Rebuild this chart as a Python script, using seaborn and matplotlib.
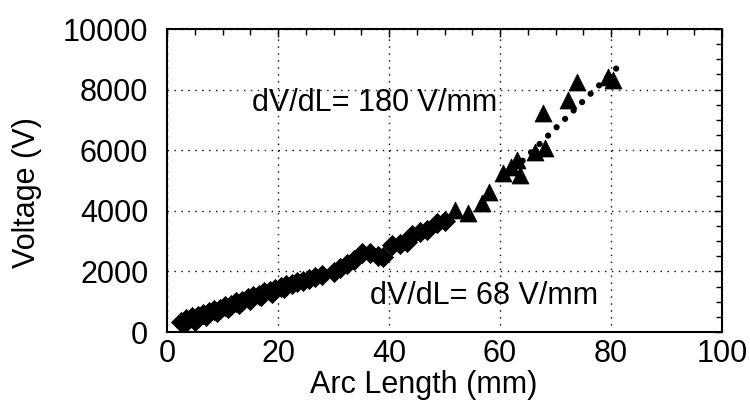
import matplotlib
matplotlib.use("Agg")
import matplotlib.pyplot as plt
import seaborn as sns
import pandas as pd
from matplotlib.ticker import MultipleLocator

# ---- data ----
diamond_x = [2.5, 3.0, 3.5, 4.5, 5.0, 5.5, 6.5, 7.0, 7.5, 8.5, 9.0, 9.5, 10.5, 11.0, 11.5,
             12.5, 13.0, 13.5, 14.5, 15.0, 15.5, 16.5, 17.0, 17.5, 18.5, 19.0, 19.5, 20.5,
             21.0, 21.5, 22.5, 23.5, 24.5, 25.5, 26.7, 28.0, 30.0, 31.2, 32.5, 33.6, 35.1,
             36.6, 38.0, 39.0, 40.5, 42.0, 43.2, 44.1, 45.5, 46.8, 48.6, 50.0]
diamond_v = [330, 280, 440, 490, 380, 540, 590, 530, 670, 730, 650, 760, 850, 780, 900,
             980, 930, 1040, 1120, 1050, 1180, 1240, 1200, 1310, 1370, 1300, 1430, 1490,
             1450, 1560, 1600, 1660, 1700, 1760, 1830, 1900, 1990, 2100, 2250, 2380, 2600,
             2600, 2520, 2490, 2870, 2900, 2980, 3200, 3300, 3370, 3590, 3650]

triangle_x = [51.9, 54.3, 56.7, 58.1, 60.6, 62.0, 63.0, 63.6, 66.3, 68.1, 67.8, 72.3, 73.8,
              79.5, 80.4]
triangle_v = [4030, 3920, 4250, 4630, 5240, 5450, 5680, 5180, 5950, 6060, 7220, 7660, 8260,
              8430, 8320]

fit_x = [61.0, 81.5]
fit_v = [5100, 8800]

x_ticks = [0, 20, 40, 60, 80, 100]
y_ticks = [0, 2000, 4000, 6000, 8000, 10000]

label_hi = "dV/dL= 180 V/mm"
label_lo = "dV/dL= 68 V/mm"

# ---- styling ----
sns.set_style("white")
plt.rcParams["font.family"] = ["Liberation Sans", "DejaVu Sans"]
plt.rcParams["text.color"] = "black"
plt.rcParams["axes.labelcolor"] = "black"
plt.rcParams["xtick.color"] = "black"
plt.rcParams["ytick.color"] = "black"
FS = 22

fig = plt.figure(figsize=(7.5, 4.09), dpi=100)
ax = fig.add_axes([0.2227, 0.188, 0.74, 0.741])

df_d = pd.DataFrame({"x": diamond_x, "v": diamond_v})
df_t = pd.DataFrame({"x": triangle_x, "v": triangle_v})
df_f = pd.DataFrame({"x": fit_x, "v": fit_v})

sns.lineplot(data=df_f, x="x", y="v", ax=ax, color="black", linewidth=4.5,
             dashes=False, zorder=3)
ax.lines[-1].set_dashes((0.01, 1.9))
ax.lines[-1].set_dash_capstyle("round")

sns.scatterplot(data=df_d, x="x", y="v", ax=ax, marker="D", s=105, color="black",
                edgecolor="black", linewidth=0.5, zorder=4)
sns.scatterplot(data=df_t, x="x", y="v", ax=ax, marker="^", s=150, color="black",
                edgecolor="black", linewidth=0.5, zorder=4)

ax.set_xlim(0, 100)
ax.set_ylim(0, 10000)
ax.set_xticks(x_ticks)
ax.set_yticks(y_ticks)
ax.set_xticklabels([str(t) for t in x_ticks], fontsize=FS, color="black")
ax.set_yticklabels([str(t) for t in y_ticks], fontsize=FS, color="black")
ax.xaxis.set_minor_locator(MultipleLocator(5))
ax.yaxis.set_minor_locator(MultipleLocator(500))
ax.tick_params(which="both", direction="in", top=True, right=True, color="black",
               labelcolor="black", width=1.0)
ax.tick_params(which="major", length=6)
ax.tick_params(which="minor", length=4)
ax.tick_params(axis="x", which="major", pad=5)
ax.tick_params(axis="y", which="major", pad=13.5)

ax.grid(True, which="major", color="black", linestyle=(0, (1, 4)), linewidth=1.0)
for s in ax.spines.values():
    s.set_color("black")
    s.set_linewidth(1.5)

ax.set_xlabel("Arc Length (mm)", fontsize=FS, labelpad=1, color="black")
ax.set_ylabel("Voltage (V)", fontsize=FS, labelpad=15, color="black")
ax.xaxis.label.set_x(0.463)
ax.yaxis.label.set_y(0.46)

ax.text(15.3, 7560, label_hi, fontsize=FS, va="center", ha="left", color="black")
ax.text(36.6, 1190, label_lo, fontsize=FS, va="center", ha="left", color="black")

fig.savefig("out.png", dpi=100, facecolor="white")
